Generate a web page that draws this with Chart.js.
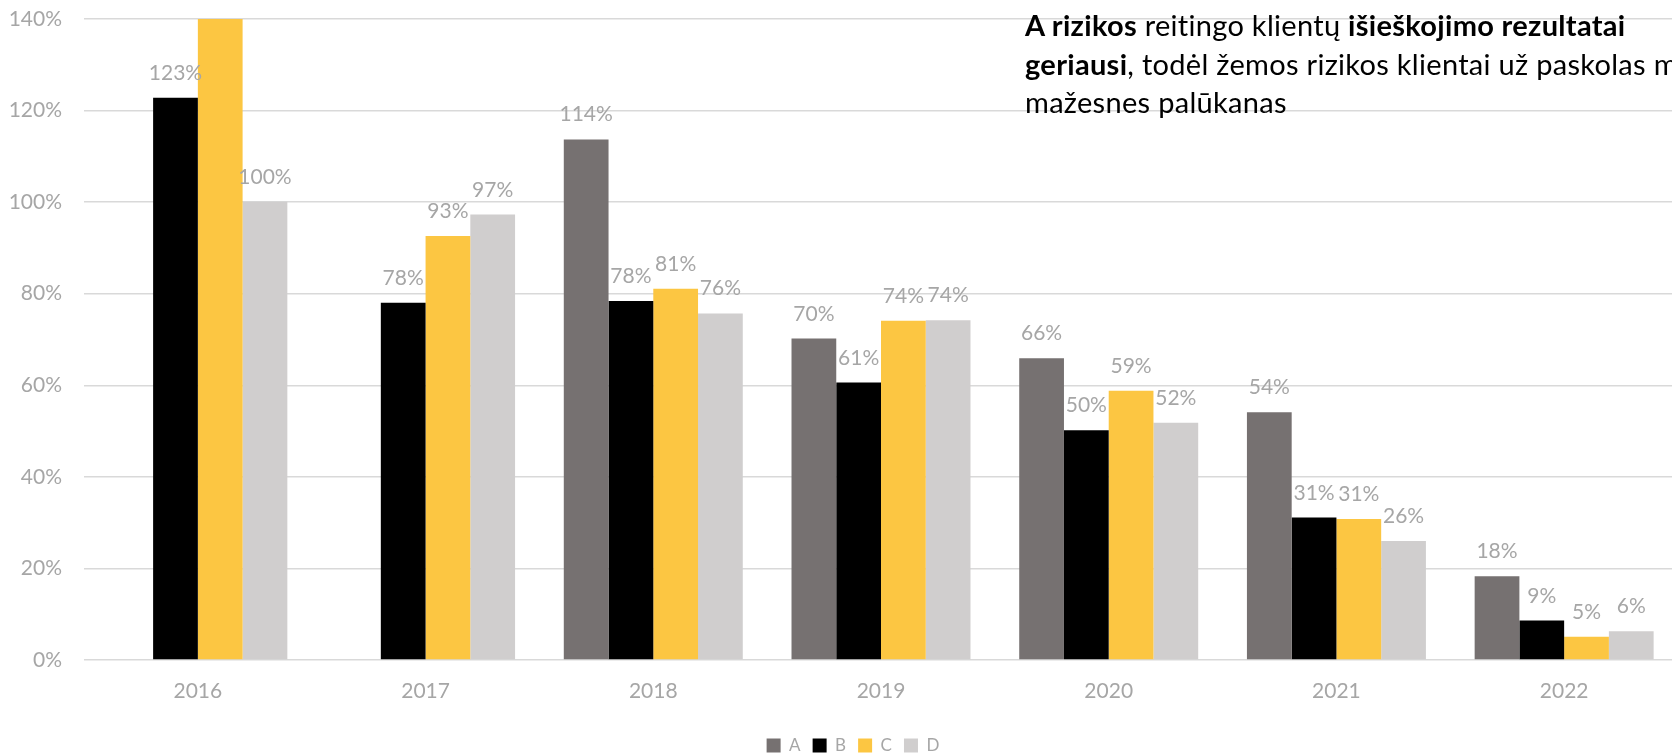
<!DOCTYPE html>
<html>
<head>
<meta charset="utf-8">
<script src="https://cdn.jsdelivr.net/npm/chart.js@4.4.1/dist/chart.umd.min.js"></script>
<style>
  html, body { margin: 0; padding: 0; width: 1672px; height: 754px; overflow: hidden; background: #fff; }
  #wrap { position: absolute; left: 0; top: 0; width: 1706px; height: 764px; }
  #note { position: absolute; left: 1025px; top: 6px; font-family: Lato, sans-serif; font-size: 29px; line-height: 38.5px; letter-spacing: 0.3px; color: #000; white-space: nowrap; }
  #note b { font-weight: 700; }
</style>
</head>
<body>
<div id="wrap"><canvas id="c" width="1706" height="764"></canvas></div>
<div id="note"><b>A rizikos</b> reitingo klientų <b>išieškojimo rezultatai</b><br><b>geriausi</b>, todėl žemos rizikos klientai už paskolas m<br>mažesnes palūkanas</div>
<script>
const categories = ['2016', '2017', '2018', '2019', '2020', '2021', '2022'];
const seriesNames = ['A', 'B', 'C', 'D'];
const valuesA = [null, null, 113.7, 70.2, 65.9, 54.1, 18.3];
const valuesB = [122.8, 78.0, 78.4, 60.6, 50.2, 31.1, 8.6];
const valuesC = [145, 92.6, 81.1, 74.1, 58.8, 30.8, 5.1];
const valuesD = [100.1, 97.3, 75.7, 74.2, 51.8, 26.0, 6.3];
const yTicks = [0, 20, 40, 60, 80, 100, 120, 140];

const colors = ['#767171', '#000000', '#FCC642', '#D0CECE'];
const labelColor = '#A6A6A6';
const gridColor = '#D9D9D9';
const fontFamily = 'Lato, sans-serif';

const dataLabels = {
  id: 'dataLabels',
  afterDatasetsDraw(chart) {
    const ctx = chart.ctx;
    const yMax = chart.scales.y.max;
    ctx.save();
    ctx.font = '21px ' + fontFamily;
    ctx.fillStyle = labelColor;
    ctx.textAlign = 'center';
    ctx.textBaseline = 'alphabetic';
    chart.data.datasets.forEach((ds, i) => {
      const meta = chart.getDatasetMeta(i);
      meta.data.forEach((el, j) => {
        const v = ds.data[j];
        if (v === null || v === undefined || v > yMax) return;
        ctx.fillText(Math.round(v) + '%', el.x, el.y - 18);
      });
    });
    ctx.restore();
  }
};

new Chart(document.getElementById('c'), {
  type: 'bar',
  data: {
    labels: categories,
    datasets: [valuesA, valuesB, valuesC, valuesD].map((d, i) => ({
      label: seriesNames[i],
      data: d,
      backgroundColor: colors[i],
      borderWidth: 0,
      categoryPercentage: 0.786,
      barPercentage: 1.0
    }))
  },
  options: {
    responsive: false,
    animation: false,
    layout: { padding: { top: 19, left: 0, right: 0, bottom: 0 } },
    plugins: {
      tooltip: { enabled: false },
      legend: {
        position: 'bottom',
        labels: {
          boxWidth: 14,
          boxHeight: 14,
          padding: 12,
          color: labelColor,
          font: { family: fontFamily, size: 17 }
        }
      }
    },
    scales: {
      x: {
        grid: { display: false },
        border: { display: false },
        ticks: { color: labelColor, font: { family: fontFamily, size: 21 }, padding: 11 },
        afterFit: s => { s.height = 65; }
      },
      y: {
        min: 0,
        max: 140,
        afterBuildTicks: s => { s.ticks = yTicks.map(v => ({ value: v })); },
        grid: { color: gridColor, lineWidth: 1.5, drawTicks: false },
        border: { display: false },
        ticks: { color: labelColor, font: { family: fontFamily, size: 21 }, padding: 22, callback: v => v + '%' },
        afterFit: s => { s.width = 84; s.paddingTop = 0; s.paddingBottom = 0; }
      },
      y2: {
        position: 'right',
        display: true,
        grid: { display: false },
        border: { display: false },
        ticks: { display: false },
        afterFit: s => { s.width = 28; s.paddingTop = 0; s.paddingBottom = 0; }
      }
    }
  },
  plugins: [dataLabels]
});
</script>
</body>
</html>
